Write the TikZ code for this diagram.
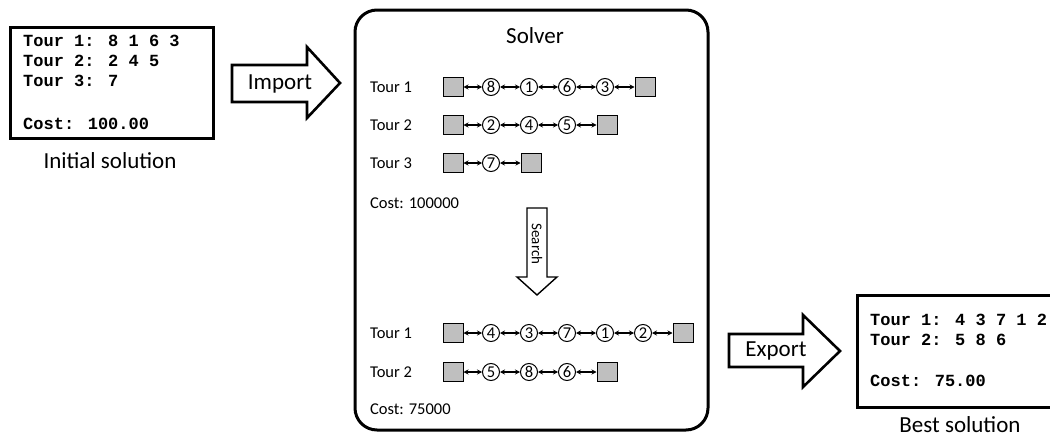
\documentclass[tikz,border=0pt]{standalone}
\usepackage{fontspec}
\setmainfont{Carlito}
\newfontfamily\codefont{Liberation Mono}
\usetikzlibrary{arrows.meta}
\tikzset{
  panel/.style={draw, line width=3pt},
  blockarrow/.style={draw, line width=2.6pt, line join=miter, fill=white},
  thinarrow/.style={draw, line width=1.4pt, line join=miter, fill=white},
  code/.style={anchor=base west, inner sep=0pt, font=\codefont\bfseries\fontsize{17}{20}\selectfont},
  caption/.style={inner sep=0pt, font=\fontsize{23}{27}\selectfont},
  rowlabel/.style={anchor=west, inner sep=0pt, font=\fontsize{16.5}{19}\selectfont},
  depot/.style={draw, line width=1pt, fill=black!25, minimum width=20pt, minimum height=19pt, inner sep=0pt},
  cust/.style={draw, circle, line width=1pt, minimum size=17pt, inner sep=0pt, font=\fontsize{16.5}{16}\selectfont},
  link/.style={{Stealth[length=5pt,width=5pt]}-{Stealth[length=5pt,width=5pt]}, line width=1.1pt},
}
\begin{document}
\begin{tikzpicture}[x=1pt,y=-1pt]
\useasboundingbox (0,0) rectangle (1050,439);
\clip (0,0) rectangle (1050,439);

% Initial solution
\draw[panel] (10,27) rectangle (213,138);
\node[code] (i1) at (23,46.7) {Tour 1: 8 1 6 3};
\node[code] (i2) at (23,66.7) {Tour 2: 2 4 5};
\node[code] (i3) at (23,86.7) {Tour 3: 7};
\node[code] (ic) at (23,129) {Cost: 100.00};
\node[caption] (initlbl) at (110,161) {Initial solution};

% Import arrow
\draw[blockarrow] (232,65) -- (307,65) -- (307,47) -- (340,83) -- (307,118) -- (307,102) -- (232,102) -- cycle;
\node[caption] (imp) at (280,84) {Import};

% Solver
\draw[panel, rounded corners=22pt] (355,10) rectangle (708,430);
\node[caption] (solver) at (535,36) {Solver};

% Top tours
\node[rowlabel] (l1) at (370,87) {Tour 1};
\node[depot] (a0) at (453,87) {};
\node[cust] (a1) at (491,87) {8};
\node[cust] (a2) at (529,87) {1};
\node[cust] (a3) at (567,87) {6};
\node[cust] (a4) at (605,87) {3};
\node[depot] (a5) at (645,87) {};
\draw[link] (a0) -- (a1); \draw[link] (a1) -- (a2); \draw[link] (a2) -- (a3);
\draw[link] (a3) -- (a4); \draw[link] (a4) -- (a5);

\node[rowlabel] (l2) at (370,125) {Tour 2};
\node[depot] (b0) at (453,125) {};
\node[cust] (b1) at (491,125) {2};
\node[cust] (b2) at (529,125) {4};
\node[cust] (b3) at (567,125) {5};
\node[depot] (b4) at (607,125) {};
\draw[link] (b0) -- (b1); \draw[link] (b1) -- (b2); \draw[link] (b2) -- (b3); \draw[link] (b3) -- (b4);

\node[rowlabel] (l3) at (370,163) {Tour 3};
\node[depot] (c0) at (453,163) {};
\node[cust] (c1) at (491,163) {7};
\node[depot] (c2) at (531,163) {};
\draw[link] (c0) -- (c1); \draw[link] (c1) -- (c2);

\node[rowlabel] (cost1) at (370,203) {Cost: 100000};

% Search arrow
\draw[thinarrow] (527,208) -- (547,208) -- (547,277) -- (557,277) -- (537,295) -- (517,277) -- (527,277) -- cycle;
\node[inner sep=0pt, rotate=-90, font=\fontsize{15}{16}\selectfont] (search) at (537,244) {Search};

% Bottom tours
\node[rowlabel] (m1) at (370,333) {Tour 1};
\node[depot] (d0) at (453,333) {};
\node[cust] (d1) at (491,333) {4};
\node[cust] (d2) at (529,333) {3};
\node[cust] (d3) at (567,333) {7};
\node[cust] (d4) at (605,333) {1};
\node[cust] (d5) at (643,333) {2};
\node[depot] (d6) at (683,333) {};
\draw[link] (d0) -- (d1); \draw[link] (d1) -- (d2); \draw[link] (d2) -- (d3);
\draw[link] (d3) -- (d4); \draw[link] (d4) -- (d5); \draw[link] (d5) -- (d6);

\node[rowlabel] (m2) at (370,372) {Tour 2};
\node[depot] (e0) at (453,372) {};
\node[cust] (e1) at (491,372) {5};
\node[cust] (e2) at (529,372) {8};
\node[cust] (e3) at (567,372) {6};
\node[depot] (e4) at (607,372) {};
\draw[link] (e0) -- (e1); \draw[link] (e1) -- (e2); \draw[link] (e2) -- (e3); \draw[link] (e3) -- (e4);

\node[rowlabel] (cost2) at (370,409) {Cost: 75000};

% Export arrow
\draw[blockarrow] (729,334) -- (803,334) -- (803,315) -- (840,351) -- (803,387) -- (803,367) -- (729,367) -- cycle;
\node[caption] (exp) at (776,351) {Export};

% Best solution
\draw[panel] (857,295) rectangle (1065,407);
\node[code] (b1t) at (870,325) {Tour 1: 4 3 7 1 2};
\node[code] (b2t) at (870,345.5) {Tour 2: 5 8 6};
\node[code] (bct) at (870,386) {Cost: 75.00};
\node[caption] (bestlbl) at (960,425) {Best solution};
\end{tikzpicture}
\end{document}
